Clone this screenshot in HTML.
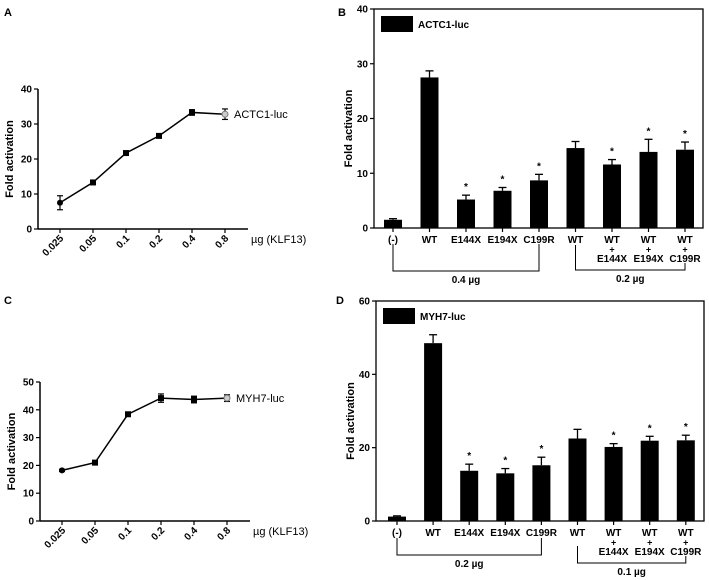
<!DOCTYPE html>
<html><head><meta charset="utf-8"><style>
body{margin:0;background:#fff;}
svg{display:block;font-family:"Liberation Sans",Arial,sans-serif;}
.b{font-weight:bold;}
</style></head><body>
<svg id="s" width="709" height="580" viewBox="0 0 709 580" xmlns="http://www.w3.org/2000/svg">
<text x="4" y="16" class="b" font-size="11">A</text>
<text x="338" y="16" class="b" font-size="11">B</text>
<text x="4" y="304" class="b" font-size="11">C</text>
<text x="336" y="304" class="b" font-size="11">D</text>
</svg>
<script>
const doseLabels = ["0.025","0.05","0.1","0.2","0.4","0.8"];
const actcDose = [7.5,13.3,21.7,26.6,33.3,32.8];
const actcDoseErr = [2.0,0.4,0.5,0.5,0.8,1.5];
const myhDose = [18.2,21.0,38.4,44.2,43.7,44.2];
const myhDoseErr = [0.4,0.4,0.4,1.5,1.2,1.2];
const aTicks = [0,10,20,30,40];
const cTicks = [0,10,20,30,40,50];
const barCats = [["(-)"],["WT"],["E144X"],["E194X"],["C199R"],["WT"],["WT","+","E144X"],["WT","+","E194X"],["WT","+","C199R"]];
const actcBar = [1.5,27.5,5.2,6.8,8.7,14.6,11.6,13.9,14.3];
const actcBarErr = [0.2,1.2,0.8,0.6,1.1,1.2,0.9,2.3,1.4];
const myhBar = [1.2,48.5,13.7,13.0,15.2,22.5,20.2,21.9,22.0];
const myhBarErr = [0.2,2.3,1.8,1.3,2.2,2.5,0.9,1.2,1.4];
const starB = [false,false,true,true,true,false,true,true,true];
const bTicks = [0,10,20,30,40];
const dTicks = [0,20,40,60];

const S = document.getElementById('s');
const NS = "http://www.w3.org/2000/svg";
function mk(tag, at, name, parent){
  const e = document.createElementNS(NS, tag);
  for (const k in at) e.setAttribute(k, at[k]);
  
  
  (parent||S).appendChild(e);
  return e;
}
function txt(x,y,s,name,opt){
  const t = mk('text', Object.assign({x:x,y:y,'font-size':10,'class':'b'},opt||{}), name);
  t.textContent = s; return t;
}
function line(x1,y1,x2,y2,name,w,c){ return mk('line',{x1,y1,x2,y2,stroke:c||'#000','stroke-width':w||1.3},name); }

function linePanel(p){
  const y = v => p.y0 - (v/p.max)*(p.y0-p.yTop);
  const x = i => p.x1 + i*p.dx;
  line(p.ax, p.y0, p.ax, p.yTop, 'y-axis', 1.5);
  line(p.ax, p.y0, p.axEnd, p.y0, 'x-axis', 1.5);
  p.ticks.forEach(t=>{
    line(p.ax-4, y(t), p.ax, y(t), 'y-tick', 1.2);
    txt(p.ax-6, y(t)+3.5, String(t), 'y-tick-label', {'text-anchor':'end'});
  });
  txt(0,0,'Fold activation','y-axis-title',{'font-size':11,'text-anchor':'middle',transform:`translate(${p.ax-25},${(p.y0+p.yTop)/2}) rotate(-90)`});
  doseLabels.forEach((l,i)=>{
    line(x(i), p.y0, x(i), p.y0+4, 'x-tick', 1.2);
    txt(0,0,l,'x-tick-label',{'font-size':10,'text-anchor':'end',transform:`translate(${x(i)+4},${p.y0+10}) rotate(-45)`});
  });
  txt(p.axEnd+3, p.y0+14, 'µg (KLF13)', 'x-axis-title', {'font-size':11,'class':''});
  let d = p.vals.map((v,i)=>(i?'L':'M')+x(i)+','+y(v)).join(' ');
  mk('path',{d:d,fill:'none',stroke:'#000','stroke-width':1.5},'series-line');
  p.vals.forEach((v,i)=>{
    const e = p.err[i], cx=x(i), cy=y(v);
    line(cx, y(v+e), cx, y(v-e), 'error-bar', 1.2);
    line(cx-3, y(v+e), cx+3, y(v+e), 'error-cap', 1.2);
    line(cx-3, y(v-e), cx+3, y(v-e), 'error-cap', 1.2);
    if (i===p.vals.length-1) mk('circle',{cx,cy,r:3,fill:'#ccc',stroke:'#777','stroke-width':1},'data-point');
    else if (i===0) mk('circle',{cx,cy,r:3,fill:'#000'},'data-point');
    else mk('rect',{x:cx-3,y:cy-3,width:6,height:6,fill:'#000'},'data-point');
  });
  txt(x(5)+9, y(p.vals[5])+4, p.name, 'series-label', {'font-size':11,'class':''});
}
linePanel({ax:38,axEnd:248,x1:60,dx:33,y0:229,yTop:89,max:40,ticks:aTicks,vals:actcDose,err:actcDoseErr,name:'ACTC1-luc'});
linePanel({ax:40,axEnd:250,x1:62,dx:33,y0:521,yTop:382,max:50,ticks:cTicks,vals:myhDose,err:myhDoseErr,name:'MYH7-luc'});

function barPanel(p){
  const y = v => p.y0 - (v/p.max)*(p.y0-p.yTop);
  const x = i => p.x1 + i*p.dx;
  mk('rect',{x:p.left,y:p.yTop,width:p.right-p.left,height:p.y0-p.yTop,fill:'none',stroke:'#000','stroke-width':1.3},'plot-frame');
  p.ticks.forEach(t=>{
    line(p.left-4, y(t), p.left, y(t), 'y-tick', 1.2);
    txt(p.left-6, y(t)+3.5, String(t), 'y-tick-label', {'text-anchor':'end'});
  });
  txt(0,0,'Fold activation','y-axis-title',{'font-size':11,'text-anchor':'middle',transform:`translate(${p.left-22},${(p.y0+p.yTop)/2+10}) rotate(-90)`});
  mk('rect',{x:p.left+7,y:p.yTop+7,width:32,height:16,fill:'#000'},'legend-swatch');
  txt(p.left+44, p.yTop+19, p.name, 'legend-label', {'font-size':10});
  p.vals.forEach((v,i)=>{
    const cx=x(i), e=p.err[i];
    line(cx, y(v), cx, y(v+e), 'error-bar', 1.3);
    line(cx-4, y(v+e), cx+4, y(v+e), 'error-cap', 1.3);
    mk('rect',{x:cx-9,y:y(v),width:18,height:p.y0-y(v),fill:'#000'},'bar-'+i);
    line(cx, p.y0, cx, p.y0+4, 'x-tick', 1.2);
    if (starB[i]) txt(cx, y(v+e)-5, '*', 'significance-star', {'text-anchor':'middle','font-size':10});
    barCats[i].forEach((s,k)=>txt(cx, p.y0+15+k*9.5, s, 'x-tick-label', {'text-anchor':'middle','font-size':s==='+'?9:10}));
  });
  const b1=p.br1, b2=p.br2;
  mk('path',{d:`M${x(0)},${b1.top} V${b1.h} H${x(4)} V${b1.top}`,fill:'none',stroke:'#000','stroke-width':1},'bracket-group-1');
  txt((x(0)+x(4))/2, b1.h+12, b1.label, 'bracket-label-1', {'text-anchor':'middle','font-size':10});
  mk('path',{d:`M${x(5)},${b2.top} V${b2.h} H${x(8)} V${b2.rtop}`,fill:'none',stroke:'#000','stroke-width':1},'bracket-group-2');
  txt((x(5)+x(8))/2, b2.h+12, b2.label, 'bracket-label-2', {'text-anchor':'middle','font-size':10});
}
barPanel({left:374,right:703,yTop:9,y0:228,max:40,x1:393,dx:36.5,ticks:bTicks,vals:actcBar,err:actcBarErr,name:'ACTC1-luc',
  br1:{top:244,h:271,label:'0.4 µg'},br2:{top:245,h:270,rtop:263,label:'0.2 µg'}});
barPanel({left:376,right:704,yTop:301,y0:521,max:60,x1:397,dx:36.1,ticks:dTicks,vals:myhBar,err:myhBarErr,name:'MYH7-luc',
  br1:{top:538,h:555,label:'0.2 µg'},br2:{top:546,h:563,rtop:556,label:'0.1 µg'}});
</script>
</body></html>
